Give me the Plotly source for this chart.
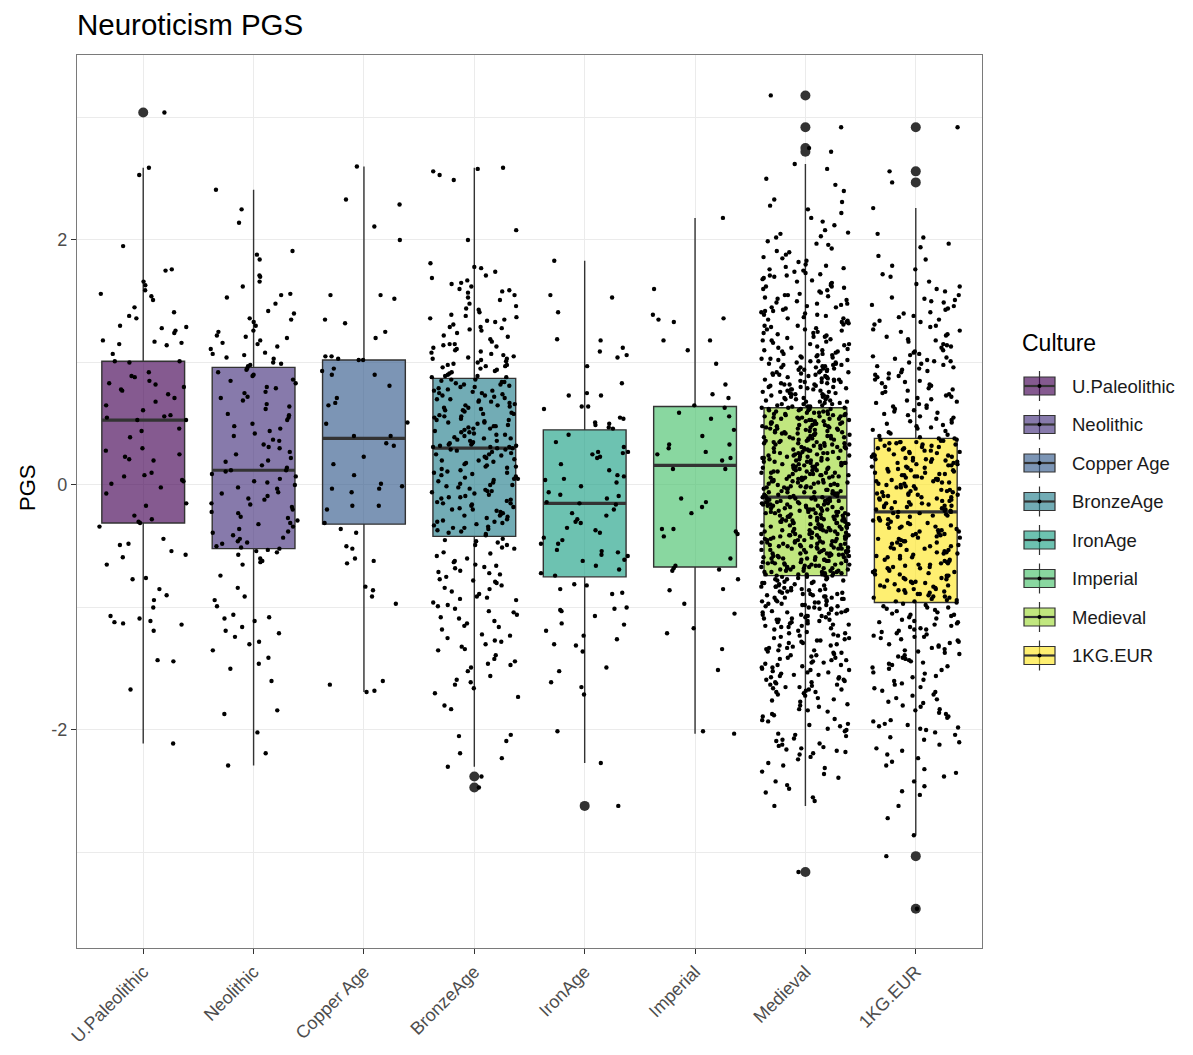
import numpy as np
import plotly.graph_objects as go

# ---------------------------------------------------------------- data
cultures = ["U.Paleolithic", "Neolithic", "Copper Age", "BronzeAge",
            "IronAge", "Imperial", "Medieval", "1KG.EUR"]

# box statistics per culture
q1 = [-0.31, -0.52, -0.32, -0.42, -0.75, -0.67, -0.74, -0.96]
medians = [0.53, 0.12, 0.38, 0.30, -0.15, 0.16, -0.10, -0.22]
q3 = [1.01, 0.96, 1.02, 0.87, 0.45, 0.64, 0.63, 0.38]
lower_whisker = [-2.11, -2.29, -1.69, -2.30, -2.27, -2.03, -2.62, -2.86]
upper_whisker = [2.59, 2.41, 2.60, 2.59, 1.83, 2.18, 2.62, 2.26]

# individual PGS values per culture
pgs_upaleo = [3.04, 2.59, 2.53, 1.95, 1.76, 1.75, 1.66, 1.63, 1.59, 1.56, 1.54, 1.51, 1.45, 1.41,
              1.38, 1.36, 1.30, 1.29, 1.28, 1.26, 1.24, 1.18, 1.17, 1.16, 1.15, 1.14, 1.07, 1.01,
              1.01, 1.00, 0.92, 0.89, 0.88, 0.85, 0.83, 0.82, 0.80, 0.78, 0.77, 0.74, 0.71, 0.68,
              0.65, 0.61, 0.57, 0.56, 0.55, 0.53, 0.53, 0.46, 0.44, 0.39, 0.30, 0.28, 0.25, 0.23,
              0.21, 0.20, 0.10, 0.08, 0.07, 0.04, 0.03, 0.01, -0.02, -0.07, -0.15, -0.17, -0.25,
              -0.28, -0.30, -0.31, -0.34, -0.44, -0.48, -0.49, -0.54, -0.57, -0.59, -0.65, -0.76,
              -0.77, -0.85, -0.90, -0.94, -1.00, -1.07, -1.09, -1.11, -1.12, -1.13, -1.14, -1.19,
              -1.43, -1.44, -1.67, -2.11]

pgs_neolithic = [2.41, 2.25, 2.14, 1.91, 1.88, 1.84, 1.71, 1.70, 1.66, 1.62, 1.56, 1.55, 1.53, 1.48,
                 1.42, 1.40, 1.36, 1.35, 1.33, 1.30, 1.26, 1.25, 1.22, 1.21, 1.20, 1.18, 1.16, 1.15,
                 1.13, 1.11, 1.08, 1.07, 1.06, 1.04, 1.03, 1.00, 0.99, 0.98, 0.97,
                 0.95, 0.94, 0.92, 0.90, 0.89, 0.86, 0.85, 0.83, 0.80, 0.79, 0.76, 0.75, 0.72, 0.71,
                 0.69, 0.66, 0.64, 0.62, 0.58, 0.57, 0.55, 0.53, 0.50, 0.48, 0.46, 0.44, 0.42, 0.40,
                 0.37, 0.36, 0.33, 0.31, 0.30, 0.27, 0.25, 0.22, 0.20, 0.19, 0.16, 0.14,
                 0.12, 0.12, 0.11, 0.09, 0.07, 0.05, 0.03, 0.02, 0.00, -0.02, -0.03, -0.06, -0.07,
                 -0.09, -0.11, -0.12, -0.15, -0.16, -0.18, -0.20, -0.22, -0.23, -0.26, -0.27, -0.29,
                 -0.31, -0.32, -0.34, -0.36, -0.38, -0.39, -0.41, -0.43, -0.44, -0.46, -0.47, -0.48,
                 -0.50, -0.51, -0.52,
                 -0.53, -0.54, -0.55, -0.57, -0.60, -0.62, -0.63, -0.65, -0.74, -0.84, -0.91, -0.94,
                 -0.99, -1.06, -1.08, -1.09, -1.11, -1.16, -1.19, -1.21, -1.24, -1.28, -1.30, -1.35,
                 -1.41, -1.46, -1.50, -1.60, -1.84, -1.87, -2.02, -2.19, -2.29]

pgs_copper = [2.60, 2.33, 2.29, 2.11, 2.00, 1.55, 1.55, 1.52, 1.35, 1.32, 1.25, 1.20, 1.05, 1.05,
              1.03, 1.02, 1.02, 0.95, 0.93, 0.90, 0.90, 0.81, 0.71, 0.67, 0.65, 0.51, 0.50, 0.40,
              0.40, 0.34, 0.32, 0.23, 0.17, 0.08, 0.01, -0.01, -0.03, -0.03, -0.06, -0.17, -0.17,
              -0.20, -0.31, -0.36, -0.39, -0.50, -0.52, -0.60, -0.62, -0.64, -0.83, -0.86, -0.91,
              -0.97, -1.60, -1.63, -1.68, -1.69]

pgs_bronze = [2.59, 2.58, 2.56, 2.53, 2.49, 2.08, 2.00, 1.81, 1.78, 1.77, 1.74, 1.71, 1.69, 1.67,
              1.65, 1.64, 1.62, 1.60, 1.59, 1.58, 1.57, 1.55, 1.53, 1.51, 1.48, 1.46, 1.44, 1.43,
              1.41, 1.39, 1.38, 1.37, 1.36, 1.35, 1.34, 1.33, 1.31, 1.29, 1.29, 1.28, 1.27, 1.26,
              1.24, 1.22, 1.21, 1.19, 1.17, 1.15, 1.15, 1.14, 1.13, 1.12, 1.11, 1.10, 1.09, 1.08,
              1.07, 1.06, 1.05, 1.04, 1.03, 1.03, 1.02, 1.01, 1.00, 0.99, 0.98, 0.98, 0.97, 0.97,
              0.96, 0.95, 0.94, 0.93, 0.92, 0.91, 0.90, 0.89, 0.89, 0.88, 0.88,
              0.86, 0.86, 0.85, 0.84, 0.84, 0.83, 0.82, 0.82, 0.81, 0.80, 0.80, 0.79, 0.78, 0.77,
              0.77, 0.76, 0.75, 0.75, 0.74, 0.73, 0.73, 0.72, 0.71, 0.70, 0.70, 0.69, 0.68, 0.68,
              0.67, 0.66, 0.65, 0.65, 0.64, 0.63, 0.63, 0.62, 0.61, 0.61, 0.60, 0.59, 0.58, 0.58,
              0.57, 0.56, 0.56, 0.55, 0.54, 0.53, 0.53, 0.52, 0.51, 0.51, 0.50, 0.49, 0.48, 0.48,
              0.47, 0.46, 0.46, 0.45, 0.44, 0.43, 0.43, 0.42, 0.41, 0.41, 0.40, 0.39, 0.38, 0.38,
              0.37, 0.36, 0.36, 0.35, 0.34, 0.34, 0.33, 0.33, 0.32, 0.32, 0.31, 0.31, 0.31, 0.30,
              0.30,
              0.29, 0.29, 0.28, 0.27, 0.26, 0.25, 0.25, 0.24, 0.23, 0.22, 0.21, 0.20, 0.20, 0.19,
              0.18, 0.17, 0.16, 0.15, 0.15, 0.14, 0.13, 0.12, 0.11, 0.10, 0.10, 0.09, 0.08, 0.07,
              0.06, 0.05, 0.05, 0.04, 0.03, 0.02, 0.01, 0.00, 0.00, -0.01, -0.02, -0.03, -0.04,
              -0.05, -0.05, -0.06, -0.07, -0.08, -0.09, -0.10, -0.10, -0.11, -0.12, -0.13, -0.14,
              -0.15, -0.15, -0.16, -0.17, -0.18, -0.19, -0.20, -0.20, -0.21, -0.22, -0.23, -0.24,
              -0.25, -0.25, -0.26, -0.27, -0.28, -0.29, -0.30, -0.30, -0.31, -0.32, -0.33, -0.34,
              -0.35, -0.35, -0.36, -0.37, -0.38, -0.39, -0.40, -0.41,
              -0.44, -0.45, -0.46, -0.47, -0.49, -0.49, -0.51, -0.52, -0.55, -0.56, -0.58, -0.60,
              -0.62, -0.63, -0.65, -0.66, -0.67, -0.68, -0.70, -0.71, -0.72, -0.73, -0.75, -0.77,
              -0.78, -0.79, -0.80, -0.82, -0.84, -0.85, -0.87, -0.89, -0.91, -0.92, -0.93, -0.94,
              -0.96, -0.98, -0.99, -1.01, -1.03, -1.04, -1.06, -1.08, -1.09, -1.11, -1.13, -1.15,
              -1.16, -1.18, -1.22, -1.23, -1.25, -1.27, -1.28, -1.30, -1.32, -1.34, -1.35, -1.39,
              -1.42, -1.44, -1.46, -1.47, -1.49, -1.52, -1.56, -1.59, -1.61, -1.63, -1.66, -1.70,
              -1.73, -1.80, -1.83, -2.04, -2.05, -2.09, -2.19, -2.23, -2.30, -2.38, -2.47]

pgs_iron = [1.83, 1.55, 1.53, 1.41, 1.19, 1.18, 1.12, 1.09, 1.06, 1.04, 0.97, 0.83, 0.75, 0.73,
            0.73, 0.64, 0.64, 0.62, 0.55, 0.54, 0.51, 0.50, 0.49, 0.47, 0.46,
            0.41, 0.35, 0.31, 0.27, 0.27, 0.26, 0.25, 0.23, 0.22, 0.17, 0.12, 0.08, 0.07, 0.05,
            0.04, 0.02, -0.01, -0.06, -0.08, -0.09, -0.11, -0.14, -0.15, -0.16, -0.20, -0.23,
            -0.25, -0.28, -0.30, -0.31, -0.35, -0.37, -0.39, -0.43, -0.45, -0.48, -0.48, -0.53,
            -0.54, -0.55, -0.57, -0.58, -0.61, -0.62, -0.66, -0.69, -0.72, -0.74,
            -0.81, -0.82, -0.85, -0.88, -0.89, -1.00, -1.01, -1.02, -1.03, -1.07, -1.13, -1.14,
            -1.19, -1.23, -1.26, -1.30, -1.31, -1.36, -1.49, -1.52, -1.61, -1.65, -1.71, -2.01,
            -2.27, -2.62]

pgs_imperial = [2.18, 1.60, 1.39, 1.36, 1.35, 1.33, 1.18, 1.18, 1.10, 0.99, 0.82, 0.74, 0.71, 0.65,
                0.63, 0.59, 0.56, 0.54, 0.45, 0.40, 0.33, 0.33, 0.30, 0.27, 0.25, 0.22, 0.20, 0.13,
                0.13, -0.11, -0.14, -0.18, -0.23, -0.36, -0.36, -0.38, -0.40, -0.42, -0.60, -0.66,
                -0.68, -0.69, -0.70, -0.77, -0.85, -0.86, -0.97, -1.05, -1.17, -1.21, -1.34, -1.51,
                -2.01, -2.03]

pgs_medieval = [
    3.18, 2.92, 2.75, 2.72, 2.62, 2.58, 2.50, 2.45, 2.40, 2.33, 2.31, 2.28, 2.25, 2.22, 2.18, 2.15,
    2.12, 2.08, 2.06, 2.05, 2.03, 2.02,
    1.99, 1.97, 1.96, 1.93, 1.91, 1.90, 1.88, 1.86, 1.85, 1.83, 1.82, 1.80, 1.79, 1.78, 1.77, 1.76,
    1.75, 1.74, 1.73, 1.72, 1.71, 1.71, 1.70, 1.69, 1.68, 1.67, 1.66, 1.65, 1.64, 1.63, 1.62, 1.62,
    1.61, 1.60, 1.59, 1.58, 1.57, 1.56, 1.55, 1.55, 1.54, 1.53, 1.52, 1.51, 1.50,
    1.49, 1.48, 1.48, 1.47, 1.46, 1.45, 1.45, 1.44, 1.43, 1.42, 1.42, 1.41, 1.40, 1.39, 1.39, 1.38,
    1.37, 1.36, 1.36, 1.35, 1.34, 1.33, 1.33, 1.32, 1.31, 1.30, 1.30, 1.29, 1.28, 1.27, 1.27, 1.26,
    1.25, 1.24, 1.24, 1.23, 1.22, 1.21, 1.21, 1.20, 1.19, 1.18, 1.18, 1.17, 1.16, 1.15, 1.15, 1.14,
    1.13, 1.12, 1.12, 1.11, 1.10, 1.10, 1.09, 1.09, 1.08, 1.07, 1.07, 1.06, 1.06, 1.05, 1.05, 1.04,
    1.04, 1.03, 1.03, 1.02, 1.02, 1.01, 1.01, 1.00, 1.00,
    0.99, 0.99, 0.98, 0.98, 0.98, 0.97, 0.97, 0.96, 0.96, 0.96, 0.95, 0.95, 0.94, 0.94, 0.94, 0.93,
    0.93, 0.92, 0.92, 0.92, 0.91, 0.91, 0.90, 0.90, 0.90, 0.89, 0.89, 0.88, 0.88, 0.88, 0.87, 0.87,
    0.86, 0.86, 0.86, 0.85, 0.85, 0.84, 0.84, 0.84, 0.83, 0.83, 0.82, 0.82, 0.82, 0.81, 0.81, 0.80,
    0.80, 0.80, 0.79, 0.79, 0.78, 0.78, 0.78, 0.77, 0.77, 0.76, 0.76, 0.76, 0.75, 0.75, 0.74, 0.74,
    0.74, 0.73, 0.73, 0.72, 0.72, 0.72, 0.71, 0.71, 0.70, 0.70, 0.70, 0.69, 0.69, 0.68, 0.68, 0.68,
    0.67, 0.67, 0.66, 0.66, 0.66, 0.65, 0.65, 0.64, 0.64, 0.64,
    0.63, 0.63, 0.63, 0.62, 0.62, 0.62, 0.62, 0.61, 0.61, 0.61, 0.60, 0.60, 0.60, 0.59, 0.59, 0.59,
    0.58, 0.58, 0.58, 0.58, 0.57, 0.57, 0.57, 0.56, 0.56, 0.56, 0.55, 0.55, 0.55, 0.54, 0.54, 0.54,
    0.54, 0.53, 0.53, 0.53, 0.52, 0.52, 0.52, 0.51, 0.51, 0.51, 0.50, 0.50, 0.50, 0.50, 0.49, 0.49,
    0.49, 0.48, 0.48, 0.48, 0.47, 0.47, 0.47, 0.46, 0.46, 0.46, 0.46, 0.45, 0.45, 0.45, 0.44, 0.44,
    0.44, 0.43, 0.43, 0.43, 0.42, 0.42, 0.42, 0.42, 0.41, 0.41, 0.41, 0.40, 0.40, 0.40, 0.39, 0.39,
    0.39, 0.38, 0.38, 0.38, 0.38, 0.37, 0.37, 0.37, 0.36, 0.36, 0.36, 0.35, 0.35, 0.35, 0.34, 0.34,
    0.34, 0.34, 0.33, 0.33, 0.33, 0.32, 0.32, 0.32, 0.31, 0.31, 0.31, 0.30, 0.30, 0.30, 0.30, 0.29,
    0.29, 0.29, 0.28, 0.28, 0.28, 0.27, 0.27, 0.27, 0.26, 0.26, 0.26, 0.26, 0.25, 0.25, 0.25, 0.24,
    0.24, 0.24, 0.23, 0.23, 0.23, 0.22, 0.22, 0.22, 0.22, 0.21, 0.21, 0.21, 0.20, 0.20, 0.20, 0.19,
    0.19, 0.19, 0.18, 0.18, 0.18, 0.18, 0.17, 0.17, 0.17, 0.16, 0.16, 0.16, 0.15, 0.15, 0.15, 0.14,
    0.14, 0.14, 0.14, 0.13, 0.13, 0.13, 0.12, 0.12, 0.12, 0.11, 0.11, 0.11, 0.10, 0.10, 0.10, 0.10,
    0.09, 0.09, 0.09, 0.08, 0.08, 0.08, 0.07, 0.07, 0.07, 0.06, 0.06, 0.06, 0.06, 0.05, 0.05, 0.05,
    0.04, 0.04, 0.04, 0.03, 0.03, 0.03, 0.02, 0.02, 0.02, 0.02, 0.01, 0.01, 0.01, 0.00, 0.00, 0.00,
    -0.01, -0.01, -0.01, -0.02, -0.02, -0.02, -0.02, -0.03, -0.03, -0.03, -0.04, -0.04, -0.04,
    -0.05, -0.05, -0.05, -0.06, -0.06, -0.06, -0.06, -0.07, -0.07, -0.07, -0.08, -0.08, -0.08,
    -0.09, -0.09, -0.09,
    -0.10, -0.10, -0.10, -0.10, -0.11, -0.11, -0.11, -0.11, -0.12, -0.12, -0.12, -0.13, -0.13,
    -0.13, -0.13, -0.14, -0.14, -0.14, -0.14, -0.15, -0.15, -0.15, -0.16, -0.16, -0.16, -0.16,
    -0.17, -0.17, -0.17, -0.17, -0.18, -0.18, -0.18, -0.19, -0.19, -0.19, -0.19, -0.20, -0.20,
    -0.20, -0.20, -0.21, -0.21, -0.21, -0.22, -0.22, -0.22, -0.22, -0.23, -0.23, -0.23, -0.23,
    -0.24, -0.24, -0.24, -0.25, -0.25, -0.25, -0.25, -0.26, -0.26, -0.26, -0.26, -0.27, -0.27,
    -0.27, -0.28, -0.28, -0.28, -0.28, -0.29, -0.29, -0.29, -0.29, -0.30, -0.30, -0.30, -0.31,
    -0.31, -0.31, -0.31, -0.32, -0.32, -0.32, -0.32, -0.33, -0.33, -0.33, -0.34, -0.34, -0.34,
    -0.34, -0.35, -0.35, -0.35, -0.35, -0.36, -0.36, -0.36, -0.37, -0.37, -0.37, -0.37, -0.38,
    -0.38, -0.38, -0.38, -0.39, -0.39, -0.39, -0.40, -0.40, -0.40, -0.40, -0.41, -0.41, -0.41,
    -0.41, -0.42, -0.42, -0.42, -0.43, -0.43, -0.43, -0.43, -0.44, -0.44, -0.44, -0.44, -0.45,
    -0.45, -0.45, -0.46, -0.46, -0.46, -0.46, -0.47, -0.47, -0.47, -0.47, -0.48, -0.48, -0.48,
    -0.49, -0.49, -0.49, -0.49, -0.50, -0.50, -0.50, -0.50, -0.51, -0.51, -0.51, -0.52, -0.52,
    -0.52, -0.52, -0.53, -0.53, -0.53, -0.53, -0.54, -0.54, -0.54, -0.55, -0.55, -0.55, -0.55,
    -0.56, -0.56, -0.56, -0.56, -0.57, -0.57, -0.57, -0.58, -0.58, -0.58, -0.58, -0.59, -0.59,
    -0.59, -0.59, -0.60, -0.60, -0.60, -0.61, -0.61, -0.61, -0.61, -0.62, -0.62, -0.62, -0.62,
    -0.63, -0.63, -0.63, -0.64, -0.64, -0.64, -0.64, -0.65, -0.65, -0.65, -0.65, -0.66, -0.66,
    -0.66, -0.67, -0.67, -0.67, -0.67, -0.68, -0.68, -0.68, -0.68, -0.69, -0.69, -0.69, -0.70,
    -0.70, -0.70, -0.70, -0.71, -0.71, -0.71, -0.71, -0.72, -0.72, -0.72, -0.73, -0.73, -0.73,
    -0.73, -0.74, -0.74, -0.74,
    -0.75, -0.75, -0.76, -0.76, -0.77, -0.77, -0.77, -0.78, -0.78, -0.79, -0.79, -0.80, -0.80,
    -0.80, -0.81, -0.81, -0.82, -0.82, -0.83, -0.83, -0.83, -0.84, -0.84, -0.85, -0.85, -0.86,
    -0.86, -0.86, -0.87, -0.87, -0.88, -0.88, -0.89, -0.89, -0.89, -0.90, -0.90, -0.91, -0.91,
    -0.92, -0.92, -0.92, -0.93, -0.93, -0.94, -0.94, -0.95, -0.95, -0.95, -0.96, -0.96, -0.97,
    -0.97, -0.98, -0.98, -0.98, -0.99, -0.99, -1.00, -1.00, -1.01, -1.01, -1.01, -1.02, -1.02,
    -1.03, -1.03, -1.04, -1.04, -1.04, -1.05, -1.05, -1.06, -1.06, -1.07, -1.07, -1.07, -1.08,
    -1.08, -1.09, -1.09, -1.10, -1.10, -1.10, -1.11, -1.11, -1.12, -1.12, -1.13, -1.13, -1.14,
    -1.14, -1.15, -1.15, -1.16, -1.16, -1.17, -1.18, -1.19, -1.20,
    -1.21, -1.21, -1.22, -1.23, -1.23, -1.24, -1.25, -1.25, -1.26, -1.27, -1.27, -1.28, -1.29,
    -1.29, -1.30, -1.31, -1.31, -1.32, -1.33, -1.33, -1.34, -1.35, -1.35, -1.36, -1.37, -1.37,
    -1.38, -1.39, -1.39, -1.40, -1.41, -1.41, -1.42, -1.43, -1.43, -1.44, -1.45, -1.45, -1.46,
    -1.47, -1.47, -1.48, -1.49, -1.49, -1.50, -1.51, -1.51, -1.52, -1.53, -1.53, -1.54, -1.55,
    -1.55, -1.56, -1.57, -1.57, -1.58, -1.59, -1.59, -1.60, -1.61, -1.61, -1.62, -1.63, -1.63,
    -1.64, -1.65, -1.65, -1.66, -1.67, -1.67, -1.68, -1.69, -1.69, -1.70,
    -1.71, -1.72, -1.74, -1.75, -1.76, -1.77, -1.79, -1.80, -1.81, -1.83, -1.84, -1.85, -1.87,
    -1.88, -1.89, -1.91, -1.92, -1.93, -1.95, -1.96, -1.97, -1.99, -2.00, -2.01, -2.03, -2.04,
    -2.05, -2.07, -2.08, -2.09, -2.11, -2.12, -2.13, -2.14, -2.15, -2.16, -2.17, -2.18, -2.19,
    -2.20,
    -2.22, -2.24, -2.27, -2.29, -2.31, -2.34, -2.36, -2.39, -2.42, -2.45, -2.48, -2.51, -2.55,
    -2.58, -2.62, -3.16]

pgs_1kg = [
    2.92, 2.56, 2.47, 2.26, 2.05, 2.02,
    1.97, 1.94, 1.87, 1.84, 1.79, 1.76, 1.72, 1.70, 1.66, 1.64, 1.62, 1.60, 1.58, 1.55, 1.53, 1.52,
    1.51, 1.50,
    1.49, 1.47, 1.46, 1.44, 1.43, 1.41, 1.40, 1.38, 1.37, 1.35, 1.34, 1.33, 1.31, 1.30, 1.29, 1.27,
    1.26, 1.25, 1.23, 1.22, 1.21, 1.19, 1.18, 1.17, 1.15, 1.14, 1.13, 1.12, 1.10, 1.09, 1.08, 1.07,
    1.06, 1.05, 1.04, 1.03, 1.02, 1.01, 1.01, 1.00,
    0.99, 0.98, 0.97, 0.96, 0.95, 0.94, 0.93, 0.92, 0.91, 0.90, 0.89, 0.88, 0.87, 0.86, 0.85, 0.84,
    0.83, 0.82, 0.81, 0.80, 0.79, 0.78, 0.77, 0.76, 0.75, 0.74, 0.73, 0.72, 0.71, 0.70, 0.69, 0.68,
    0.67, 0.66, 0.65, 0.64, 0.63, 0.62, 0.61, 0.60, 0.59, 0.58, 0.57, 0.56, 0.55, 0.54, 0.53, 0.52,
    0.51, 0.50, 0.49, 0.48, 0.47, 0.46, 0.45, 0.44, 0.43, 0.42, 0.41, 0.40, 0.39,
    0.38, 0.38, 0.37, 0.37, 0.36, 0.36, 0.35, 0.35, 0.35, 0.34, 0.34, 0.33, 0.33, 0.32, 0.32, 0.31,
    0.31, 0.30, 0.30, 0.29, 0.29, 0.28, 0.28, 0.27, 0.27, 0.26, 0.26, 0.25, 0.25, 0.24, 0.24, 0.23,
    0.23, 0.22, 0.22, 0.21, 0.21, 0.21, 0.20, 0.20, 0.19, 0.19, 0.18, 0.18, 0.17, 0.17, 0.16, 0.16,
    0.15, 0.15, 0.14, 0.14, 0.13, 0.13, 0.12, 0.12, 0.11, 0.11, 0.10, 0.10, 0.09, 0.09, 0.08, 0.08,
    0.07, 0.07, 0.06, 0.06, 0.05, 0.05, 0.05, 0.04, 0.04, 0.03, 0.03, 0.02, 0.02, 0.01, 0.01, 0.00,
    0.00, -0.01, -0.01, -0.02, -0.02, -0.03, -0.03, -0.04, -0.04, -0.05, -0.05, -0.06, -0.06, -0.07,
    -0.07, -0.08, -0.08, -0.08, -0.09, -0.09, -0.10, -0.10, -0.11, -0.11, -0.12, -0.12, -0.13,
    -0.13, -0.14, -0.14, -0.15, -0.15, -0.16, -0.16, -0.17, -0.17, -0.17, -0.18, -0.18, -0.19,
    -0.19, -0.20, -0.20, -0.21, -0.21,
    -0.22, -0.22, -0.23, -0.23, -0.24, -0.25, -0.25, -0.26, -0.26, -0.27, -0.28, -0.28, -0.29,
    -0.29, -0.30, -0.31, -0.31, -0.32, -0.32, -0.33, -0.34, -0.34, -0.35, -0.35, -0.36, -0.37,
    -0.37, -0.38, -0.38, -0.39, -0.40, -0.40, -0.41, -0.41, -0.42, -0.43, -0.43, -0.44, -0.44,
    -0.45, -0.46, -0.46, -0.47, -0.47, -0.48, -0.49, -0.49, -0.50, -0.50, -0.51, -0.52, -0.52,
    -0.53, -0.53, -0.54, -0.55, -0.55, -0.56, -0.56, -0.57, -0.58, -0.58, -0.59, -0.59, -0.60,
    -0.61, -0.61, -0.62, -0.62, -0.63, -0.64, -0.64, -0.65, -0.65, -0.66, -0.67, -0.67, -0.68,
    -0.68, -0.69, -0.70, -0.70, -0.71, -0.71, -0.72, -0.73, -0.73, -0.74, -0.74, -0.75, -0.76,
    -0.76, -0.77, -0.77, -0.78, -0.79, -0.79, -0.80, -0.80, -0.81, -0.82, -0.82, -0.83, -0.83,
    -0.84, -0.85, -0.85, -0.86, -0.86, -0.87, -0.88, -0.88, -0.89, -0.89, -0.90, -0.91, -0.91,
    -0.92, -0.92, -0.93, -0.94, -0.94, -0.95, -0.95, -0.96,
    -0.97, -0.98, -0.99, -1.00, -1.00, -1.01, -1.02, -1.03, -1.04, -1.05, -1.06, -1.06, -1.07,
    -1.08, -1.09, -1.10, -1.11, -1.12, -1.12, -1.13, -1.14, -1.15, -1.16, -1.17, -1.18, -1.18,
    -1.19, -1.20, -1.21, -1.22, -1.23, -1.24, -1.24, -1.25, -1.26, -1.27, -1.28, -1.29, -1.30,
    -1.31, -1.32, -1.33, -1.34, -1.35, -1.36, -1.37, -1.38, -1.39, -1.40, -1.41, -1.42, -1.43,
    -1.44, -1.45, -1.46, -1.47, -1.48, -1.49, -1.50,
    -1.51, -1.53, -1.54, -1.56, -1.57, -1.59, -1.60, -1.62, -1.63, -1.65, -1.66, -1.68, -1.69,
    -1.71, -1.72, -1.74, -1.75, -1.77, -1.78, -1.80, -1.81, -1.83, -1.84, -1.86, -1.87, -1.89,
    -1.90, -1.92, -1.93, -1.95, -1.96, -1.97, -1.98, -1.99, -2.00,
    -2.02, -2.04, -2.06, -2.08, -2.10, -2.12, -2.15, -2.17, -2.20, -2.23, -2.26, -2.29, -2.32,
    -2.35, -2.38, -2.42, -2.46, -2.50, -2.53, -2.62, -2.72, -2.86, -3.03, -3.46]

pgs_by_culture = [pgs_upaleo, pgs_neolithic, pgs_copper, pgs_bronze,
                  pgs_iron, pgs_imperial, pgs_medieval, pgs_1kg]

# viridis palette, one colour per culture
palette = ["#440154", "#46337E", "#365C8D", "#277F8E",
           "#1FA187", "#4AC16D", "#9FDA3A", "#FDE725"]

# ---------------------------------------------------------------- style
FONT = "Liberation Sans, Arial, sans-serif"
BOX_ALPHA = 0.65
BOX_WIDTH = 0.75
JITTER_WIDTH = 0.4
LINE_COL = "#333333"
GRID_COL = "#EBEBEB"

W, H = 1193, 1055
M_L, M_R, M_T, M_B = 77, 211, 55, 107
PW, PH = W - M_L - M_R, H - M_T - M_B


def px_x(x):
    """page pixel -> paper x"""
    return (x - M_L) / PW


def px_y(y):
    """page pixel -> paper y"""
    return (H - M_B - y) / PH


def rgba(hex_col, alpha):
    h = hex_col.lstrip("#")
    r, g, b = int(h[0:2], 16), int(h[2:4], 16), int(h[4:6], 16)
    return f"rgba({r},{g},{b},{alpha})"


def jitter_offsets(n, seed):
    """deterministic horizontal spread for the dots"""
    k = np.arange(1, n + 1)
    h = np.sin(k * 12.9898 + seed * 78.233) * 43758.5453
    return (h - np.floor(h) - 0.5) * 2 * JITTER_WIDTH


fig = go.Figure()

# boxes
for i, name in enumerate(cultures):
    pos = i + 1
    fig.add_trace(go.Box(
        x=[pos], q1=[q1[i]], median=[medians[i]], q3=[q3[i]],
        lowerfence=[lower_whisker[i]], upperfence=[upper_whisker[i]],
        width=BOX_WIDTH, whiskerwidth=0, boxpoints=False,
        fillcolor=rgba(palette[i], BOX_ALPHA),
        line=dict(color=LINE_COL, width=1.4),
        name=name, showlegend=False, hoverinfo="skip", orientation="v",
    ))

# thicker median bars
mx, my = [], []
for i, m in enumerate(medians):
    pos = i + 1
    mx += [pos - BOX_WIDTH / 2, pos + BOX_WIDTH / 2, None]
    my += [m, m, None]
fig.add_trace(go.Scatter(x=mx, y=my, mode="lines",
                         line=dict(color=LINE_COL, width=3.2),
                         showlegend=False, hoverinfo="skip"))

# outliers (beyond whiskers) drawn at the box centre
ox, oy = [], []
for i, vals in enumerate(pgs_by_culture):
    for v in vals:
        if v > upper_whisker[i] or v < lower_whisker[i]:
            ox.append(i + 1)
            oy.append(v)
fig.add_trace(go.Scatter(x=ox, y=oy, mode="markers",
                         marker=dict(color=LINE_COL, size=10),
                         showlegend=False, hoverinfo="skip"))

# jittered individual scores
jx, jy = [], []
for i, vals in enumerate(pgs_by_culture):
    offs = jitter_offsets(len(vals), i + 1)
    jx += list(i + 1 + offs)
    jy += list(vals)
fig.add_trace(go.Scatter(x=jx, y=jy, mode="markers",
                         marker=dict(color="black", size=4.4, line=dict(width=0)),
                         showlegend=False, hoverinfo="skip"))

# ---------------------------------------------------------------- legend
shapes = []
annotations = []
annotations.append(dict(text="Culture", x=px_x(1020), y=px_y(343), xref="paper", yref="paper",
                        xanchor="left", yanchor="middle", showarrow=False,
                        font=dict(family=FONT, size=23, color="black")))
for i, name in enumerate(cultures):
    cy = 386 + 38.5 * i
    cx = 1039.5
    shapes.append(dict(type="line", xref="paper", yref="paper",
                       x0=px_x(cx), x1=px_x(cx), y0=px_y(cy - 15), y1=px_y(cy + 15),
                       line=dict(color=LINE_COL, width=1.2)))
    shapes.append(dict(type="rect", xref="paper", yref="paper",
                       x0=px_x(1024), x1=px_x(1055), y0=px_y(cy - 9), y1=px_y(cy + 9),
                       fillcolor=rgba(palette[i], BOX_ALPHA),
                       line=dict(color=LINE_COL, width=1.2)))
    shapes.append(dict(type="line", xref="paper", yref="paper",
                       x0=px_x(1024), x1=px_x(1055), y0=px_y(cy), y1=px_y(cy),
                       line=dict(color=LINE_COL, width=2.2)))
    shapes.append(dict(type="circle", xref="paper", yref="paper",
                       x0=px_x(cx - 2), x1=px_x(cx + 2), y0=px_y(cy - 2), y1=px_y(cy + 2),
                       fillcolor="black", line=dict(width=0)))
    annotations.append(dict(text=name, x=px_x(1070), y=px_y(cy), xref="paper", yref="paper",
                            xanchor="left", yanchor="middle", showarrow=False,
                            font=dict(family=FONT, size=18.5, color="#1a1a1a")))

# y-axis title
annotations.append(dict(text="PGS", x=px_x(28), y=px_y(488), xref="paper", yref="paper",
                        xanchor="center", yanchor="middle", textangle=-90, showarrow=False,
                        font=dict(family=FONT, size=22, color="black")))

fig.update_layout(
    width=W, height=H,
    margin=dict(l=M_L, r=M_R, t=M_T, b=M_B, autoexpand=False),
    paper_bgcolor="white", plot_bgcolor="white",
    font=dict(family=FONT),
    title=dict(text="Neuroticism PGS", x=0, xref="paper", xanchor="left",
               y=1 - 25 / H, yref="container", yanchor="middle",
               font=dict(family=FONT, size=29.5, color="black")),
    showlegend=False,
    shapes=shapes,
    annotations=annotations,
    xaxis=dict(
        range=[0.4, 8.6], automargin=False,
        tickmode="array", tickvals=list(range(1, len(cultures) + 1)), ticktext=cultures,
        tickangle=-45, tickfont=dict(family=FONT, size=18, color="#4D4D4D"),
        showgrid=True, gridcolor=GRID_COL, gridwidth=1.3, zeroline=False,
        showline=True, mirror=True, linecolor="#7a7a7a", linewidth=1.3,
        ticks="outside", ticklen=5, tickcolor=LINE_COL, tickwidth=1.2,
    ),
    yaxis=dict(
        range=[-3.78, 3.51], automargin=False,
        tickmode="array", tickvals=[-2, 0, 2], ticktext=["-2", "0", "2"],
        tickfont=dict(family=FONT, size=18, color="#4D4D4D"),
        showgrid=True, gridcolor=GRID_COL, gridwidth=1.3, zeroline=False,
        minor=dict(tickmode="array", tickvals=[-3, -1, 1, 3], showgrid=True,
                   gridcolor=GRID_COL, gridwidth=0.7, ticks=""),
        showline=True, mirror=True, linecolor="#7a7a7a", linewidth=1.3,
        ticks="outside", ticklen=5, tickcolor=LINE_COL, tickwidth=1.2,
    ),
)

fig.write_html("out.html")
